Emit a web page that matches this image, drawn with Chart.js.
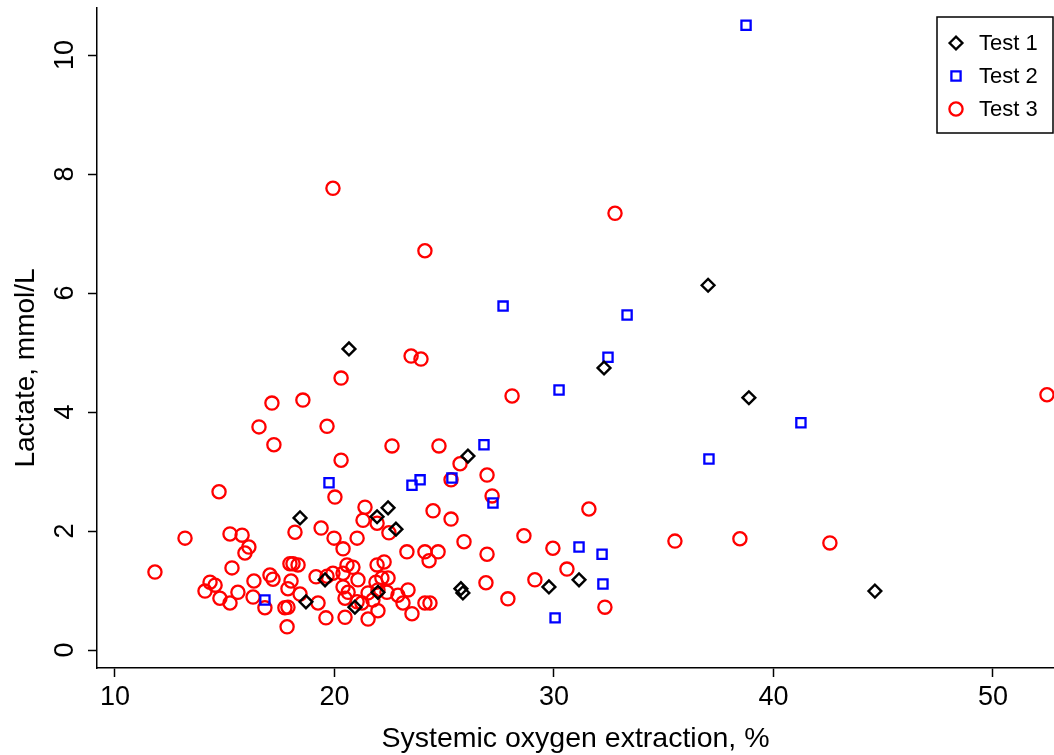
<!DOCTYPE html>
<html><head><meta charset="utf-8">
<style>html,body{margin:0;padding:0;background:#fff;} #wrap{width:1054px;height:755px;position:relative;}</style>
<script src="https://cdn.jsdelivr.net/npm/chart.js"></script>
</head><body>
<div id="wrap"><canvas id="c" width="1054" height="755"></canvas></div>
<script>
const seriesLabels = ['Test 1', 'Test 2', 'Test 3'];
const xTicks = [10, 20, 30, 40, 50];
const yTicks = [0, 2, 4, 6, 8, 10];
const xTitle = 'Systemic oxygen extraction, %';
const yTitle = 'Lactate, mmol/L';

const test1X = [20.66, 32.28, 37.02, 38.88, 44.62, 26.08, 18.43, 22.44, 21.94, 22.80, 25.76, 25.85, 29.77, 31.14, 18.70, 19.57, 20.93, 21.98];
const test1Y = [5.06, 4.74, 6.13, 4.24, 0.99, 3.26, 2.22, 2.39, 2.24, 2.03, 1.03, 0.96, 1.06, 1.18, 0.81, 1.18, 0.72, 0.97];

const test2X = [38.75, 27.68, 33.33, 32.46, 30.23, 41.25, 37.06, 26.81, 19.75, 23.53, 23.90, 25.35, 27.22, 16.83, 31.14, 32.19, 32.23, 30.05];
const test2Y = [10.50, 5.78, 5.63, 4.92, 4.37, 3.82, 3.21, 3.45, 2.81, 2.77, 2.86, 2.89, 2.47, 0.84, 1.73, 1.61, 1.11, 0.54];

const test3X = [19.93, 32.78, 24.12, 23.49, 23.94, 20.30, 28.09, 52.46, 17.15, 18.56, 16.56, 19.66, 17.24, 22.62, 24.76, 20.30, 25.72, 26.95, 20.02, 25.31, 27.18, 14.74,
  11.82, 13.19, 14.10, 14.33, 14.56, 14.78, 15.24, 15.79, 16.10, 15.92, 15.33, 15.24, 15.60, 16.33, 16.29, 17.06, 17.20, 16.83, 17.74, 17.88, 17.84, 18.02, 17.88, 18.43,
  17.97, 18.11, 18.34, 18.20, 19.39, 19.25, 19.61, 19.16, 19.66, 19.93, 19.98, 20.39, 20.39, 20.57, 20.84, 20.39, 20.62, 20.48, 20.48, 21.03, 21.07, 21.03, 21.25,
  21.39, 21.30, 21.94, 22.48, 21.94, 22.26, 21.89, 22.16, 22.44, 21.98, 22.39, 21.53, 21.75, 21.53, 21.98, 22.89, 23.35, 23.12, 23.53, 24.12, 24.35, 23.30, 24.12,
  24.72, 24.31, 24.49, 25.31, 25.90, 26.95, 26.90, 27.90, 28.63, 29.95, 30.59, 29.13, 32.32, 31.59, 35.51, 38.47, 42.57];
const test3Y = [7.76, 7.34, 6.71, 4.94, 4.89, 4.57, 4.27, 4.29, 4.15, 4.20, 3.75, 3.76, 3.45, 3.43, 3.43, 3.19, 3.13, 2.94, 2.57, 2.86, 2.59, 2.66,
  1.31, 1.88, 0.99, 1.14, 1.09, 0.87, 1.95, 1.93, 1.73, 1.63, 1.38, 0.79, 0.97, 1.16, 0.89, 1.26, 1.19, 0.71, 0.71, 0.72, 0.39, 1.16, 1.03, 0.94,
  1.45, 1.45, 1.43, 1.98, 2.05, 0.79, 0.54, 1.23, 1.24, 1.29, 1.88, 1.70, 1.29, 1.43, 1.39, 1.06, 0.97, 0.87, 0.55, 1.88, 1.18, 0.81, 0.79,
  2.40, 2.18, 2.13, 1.97, 1.43, 1.48, 1.14, 1.21, 1.21, 1.01, 0.97, 0.96, 0.84, 0.52, 0.66, 0.92, 1.01, 0.79, 0.61, 0.79, 0.79, 1.65, 1.65,
  1.65, 1.50, 2.34, 2.20, 1.82, 1.61, 1.13, 0.86, 1.92, 1.71, 1.36, 1.18, 0.72, 2.37, 1.83, 1.87, 1.80];

const FONT = '"Liberation Sans", Arial, Helvetica, sans-serif';

function pts(xs, ys) { return xs.map((x, i) => ({ x: x, y: ys[i] })); }

function drawMarker(ctx, style, x, y, r, color, lw) {
  ctx.save();
  ctx.strokeStyle = color; ctx.lineWidth = lw;
  ctx.beginPath();
  if (style === 'rectRot') {
    ctx.moveTo(x - r, y); ctx.lineTo(x, y - r); ctx.lineTo(x + r, y); ctx.lineTo(x, y + r); ctx.closePath();
  } else if (style === 'rect') {
    const s = Math.SQRT1_2 * r;
    ctx.rect(x - s, y - s, 2 * s, 2 * s);
  } else {
    ctx.arc(x, y, r, 0, Math.PI * 2);
  }
  ctx.stroke();
  ctx.restore();
}

const legendPlugin = {
  id: 'boxLegend',
  afterDraw(chart) {
    const ctx = chart.ctx;
    const bx = 937, by = 17, bw = 116, bh = 116;
    ctx.save();
    ctx.strokeStyle = '#000'; ctx.lineWidth = 1.5;
    ctx.strokeRect(bx, by, bw, bh);
    chart.data.datasets.forEach((ds, i) => {
      const cy = by + 26 + i * 33;
      drawMarker(ctx, ds.pointStyle, 956, cy, ds.pointRadius, ds.borderColor, ds.borderWidth);
      ctx.fillStyle = '#000';
      ctx.font = '22px ' + FONT;
      ctx.textBaseline = 'middle';
      ctx.textAlign = 'left';
      ctx.fillText(ds.label, 979, cy + 1);
    });
    ctx.restore();
  }
};

// y axis title, drawn as rotated text to the left of the tick labels
const yTitlePlugin = {
  id: 'yTitle',
  afterDraw(chart) {
    const ctx = chart.ctx;
    ctx.save();
    ctx.translate(26, 368);
    ctx.rotate(-Math.PI / 2);
    ctx.fillStyle = '#000';
    ctx.font = '28px ' + FONT;
    ctx.textAlign = 'center';
    ctx.textBaseline = 'middle';
    ctx.fillText(yTitle, 0, 0);
    ctx.restore();
  }
};

function zeroPad(s) { s.paddingTop = 0; s.paddingBottom = 0; s.paddingLeft = 0; s.paddingRight = 0; }

const commonGrid = { display: true, drawOnChartArea: false, drawTicks: true, tickLength: 9, tickWidth: 1.5, tickColor: '#000' };

new Chart(document.getElementById('c'), {
  type: 'scatter',
  data: {
    datasets: [
      { label: seriesLabels[0], data: pts(test1X, test1Y), pointStyle: 'rectRot', pointRadius: 6.4, borderWidth: 2.4, borderColor: '#000000', backgroundColor: 'rgba(0,0,0,0)', clip: false },
      { label: seriesLabels[1], data: pts(test2X, test2Y), pointStyle: 'rect', pointRadius: 6.5, borderWidth: 2.3, borderColor: '#0000ff', backgroundColor: 'rgba(0,0,0,0)', clip: false },
      { label: seriesLabels[2], data: pts(test3X, test3Y), pointStyle: 'circle', pointRadius: 6.6, borderWidth: 2.3, borderColor: '#ff0000', backgroundColor: 'rgba(0,0,0,0)', clip: false }
    ]
  },
  options: {
    responsive: false,
    animation: false,
    devicePixelRatio: 1,
    events: [],
    layout: { autoPadding: false, padding: { top: 8, left: 0, right: 0, bottom: 0 } },
    plugins: { legend: { display: false }, tooltip: { enabled: false } },
    scales: {
      x: {
        type: 'linear', min: 9.18, max: 52.78,
        afterBuildTicks: s => { s.ticks = xTicks.map(v => ({ value: v })); },
        afterFit: s => { s.height = 87; zeroPad(s); },
        grid: commonGrid,
        border: { display: true, color: '#000', width: 1.5 },
        ticks: { color: '#000', font: { family: FONT, size: 27 }, padding: 4, minRotation: 0, maxRotation: 0, autoSkip: false },
        title: { display: true, text: xTitle, color: '#000', font: { family: FONT, size: 28.5, lineHeight: 1.1 }, padding: { top: 0, bottom: 0 } }
      },
      y: {
        type: 'linear', min: -0.3025, max: 10.79,
        afterBuildTicks: s => { s.ticks = yTicks.map(v => ({ value: v })); },
        afterFit: s => { s.width = 97; zeroPad(s); },
        grid: commonGrid,
        border: { display: true, color: '#000', width: 1.5 },
        ticks: { color: '#000', font: { family: FONT, size: 27 }, padding: 7, minRotation: 90, maxRotation: 90, crossAlign: 'center', autoSkip: false },
        title: { display: false }
      }
    }
  },
  plugins: [legendPlugin, yTitlePlugin]
});
</script>
</body></html>
